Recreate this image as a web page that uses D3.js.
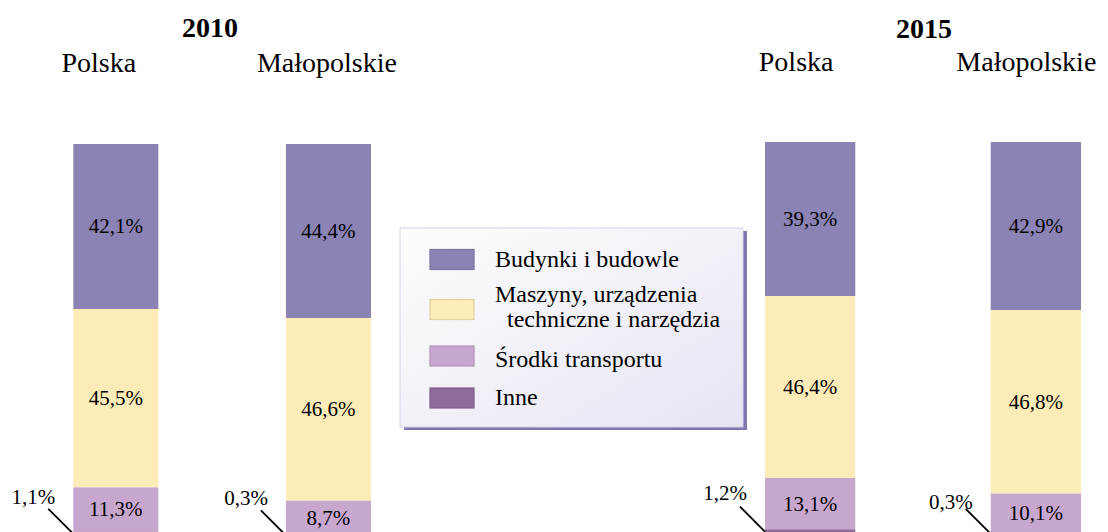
<!DOCTYPE html>
<html lang="pl">
<head>
<meta charset="utf-8">
<script src="https://cdn.jsdelivr.net/npm/d3@7"></script>
<style>
  html, body { margin: 0; padding: 0; background: #fff; }
  svg { display: block; font-family: "Liberation Serif", "Times New Roman", serif; }
</style>
</head>
<body>
<svg id="chart" width="1108" height="532"></svg>
<script>
// Struktura wartości brutto środków trwałych (%)
const years = ["2010", "2015"];
const regions = ["Polska", "Małopolskie"];
const categories = ["Budynki i budowle", "Maszyny, urządzenia techniczne i narzędzia", "Środki transportu", "Inne"];
const legendLabels = [["Budynki i budowle"], ["Maszyny, urządzenia", "  techniczne i narzędzia"], ["Środki transportu"], ["Inne"]];

// udziały kategorii: [Polska, Małopolskie]
const budynki   = { "2010": [42.1, 44.4], "2015": [39.3, 42.9] };
const maszyny   = { "2010": [45.5, 46.6], "2015": [46.4, 46.8] };
const transport = { "2010": [11.3, 8.7],  "2015": [13.1, 10.1] };
const inne      = { "2010": [1.1, 0.3],   "2015": [1.2, 0.3] };

const colors = ["#8a83b4", "#fdecb7", "#c8a7cf", "#8f6b9b"];

const fmt = v => d3.format(".1f")(v).replace(".", ",") + "%";

const svg = d3.select("#chart");

// układ paneli
const panels = {
  "2010": { x0: 73.3, x1: 371, top: 144, titleX: 210, titleY: 37, headY: 72, headShift: [-17, -1.5], noteDy: [0, 0] },
  "2015": { x0: 765, x1: 1081, top: 142, titleX: 924, titleY: 38, headY: 71, headShift: [-14, -9.5], noteDy: [-2, 5] }
};
const pxPerPct = 3.92;

years.forEach(year => {
  const p = panels[year];
  const x = d3.scaleBand().domain(regions).range([p.x0, p.x1]).paddingInner(0.6);
  const y = d3.scaleLinear().domain([0, 100]).range([p.top + 100 * pxPerPct, p.top]);

  const g = svg.append("g");

  g.append("text")
    .attr("x", p.titleX).attr("y", p.titleY)
    .attr("text-anchor", "middle")
    .attr("font-size", 28).attr("font-weight", "bold")
    .text(year);

  regions.forEach((reg, ri) => {
    const vals = [budynki[year][ri], maszyny[year][ri], transport[year][ri], inne[year][ri]];
    // stos od góry: budynki na górze
    let acc = 100;
    const segs = vals.map((v, ci) => {
      const s = { ci, v, hi: acc, lo: acc - v };
      acc -= v;
      return s;
    });

    const bx = x(reg), bw = x.bandwidth();

    g.append("text")
      .attr("x", bx + bw / 2 + p.headShift[ri]).attr("y", p.headY)
      .attr("text-anchor", "middle")
      .attr("font-size", 28)
      .text(reg);

    g.selectAll(null).data(segs).enter().append("rect")
      .attr("x", bx).attr("width", bw)
      .attr("y", d => y(d.hi))
      .attr("height", d => y(d.lo) - y(d.hi))
      .attr("fill", d => colors[d.ci]);

    // etykiety wewnątrz słupka
    g.selectAll(null).data(segs.slice(0, 3)).enter().append("text")
      .attr("x", bx + bw / 2)
      .attr("y", d => (y(d.hi) + y(d.lo)) / 2)
      .attr("dy", "0.33em")
      .attr("text-anchor", "middle")
      .attr("font-size", 21)
      .text(d => fmt(d.v));

    // etykieta z odnośnikiem dla kategorii "Inne"
    const last = segs[3];
    const ey = (y(last.hi) + y(last.lo)) / 2;
    g.append("line")
      .attr("x1", bx - 25).attr("y1", ey - 25)
      .attr("x2", bx).attr("y2", ey)
      .attr("stroke", "#000").attr("stroke-width", 1.8);
    g.append("text")
      .attr("x", bx - 18).attr("y", ey - 30 + p.noteDy[ri])
      .attr("text-anchor", "end")
      .attr("font-size", 21)
      .text(fmt(last.v));
  });
});

// legenda
const defs = svg.append("defs");
const grad = defs.append("linearGradient").attr("id", "legendFill")
  .attr("x1", "0%").attr("y1", "0%").attr("x2", "100%").attr("y2", "100%");
grad.append("stop").attr("offset", "0%").attr("stop-color", "#fdfdfe");
grad.append("stop").attr("offset", "100%").attr("stop-color", "#e7e5f2");

const lg = svg.append("g");
const L = { x: 400, y: 228, w: 343, h: 199 };
lg.append("rect").attr("x", L.x + 4).attr("y", L.y + 3).attr("width", L.w).attr("height", L.h).attr("fill", "#7f78b0");
lg.append("rect").attr("x", L.x).attr("y", L.y).attr("width", L.w).attr("height", L.h)
  .attr("fill", "url(#legendFill)").attr("stroke", "#d6d2ea").attr("stroke-width", 1);

const rowTop = [249.5, 299.5, 346, 388];
const rowText = [[266.7], [301.7, 326.7], [366.7], [405]];
categories.forEach((c, i) => {
  lg.append("rect")
    .attr("x", 430).attr("y", rowTop[i]).attr("width", 44).attr("height", 20)
    .attr("fill", colors[i])
    .attr("stroke", d3.color(colors[i]).darker(0.35)).attr("stroke-width", 1.2);
  legendLabels[i].forEach((t, k) => {
    lg.append("text")
      .attr("x", 495).attr("y", rowText[i][k])
      .attr("font-size", 24)
      .attr("xml:space", "preserve")
      .style("white-space", "pre")
      .text(t);
  });
});
</script>
</body>
</html>
